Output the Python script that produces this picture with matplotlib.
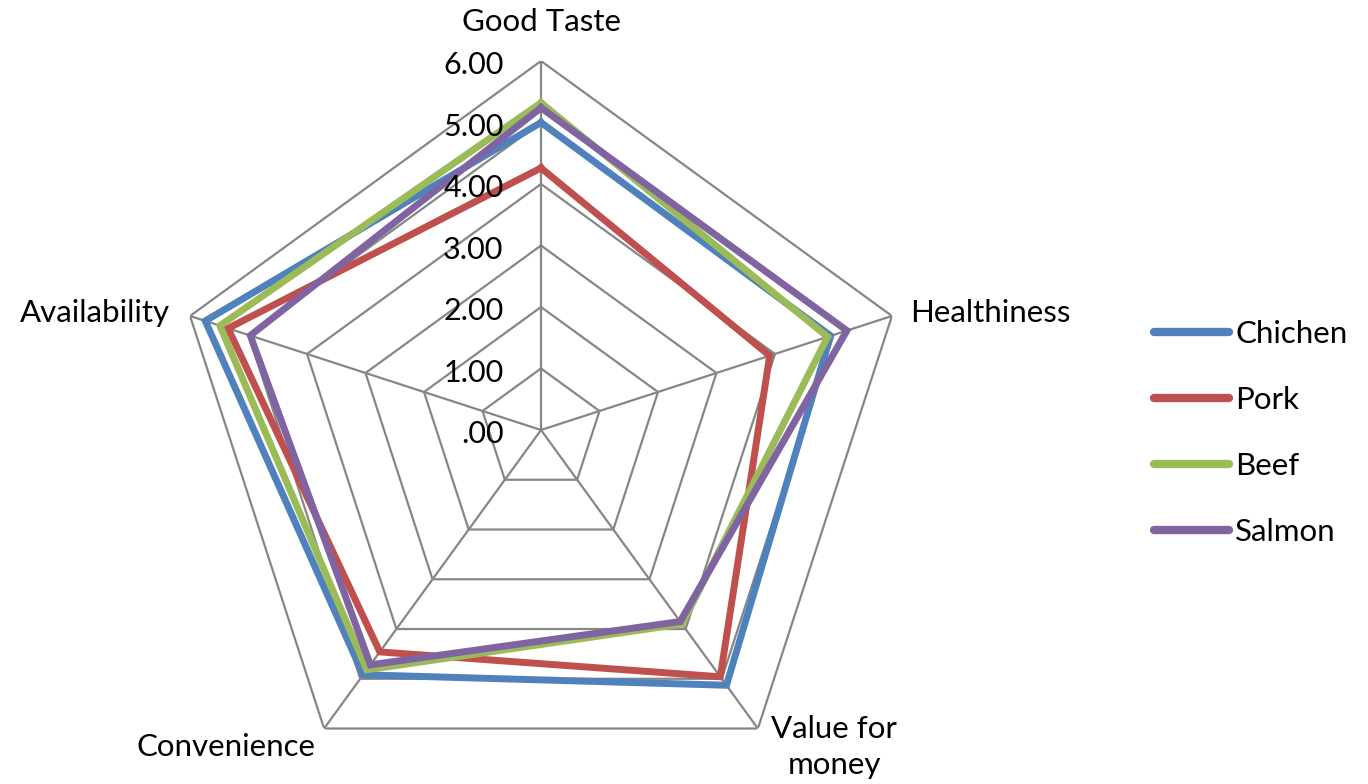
import matplotlib.pyplot as plt
import numpy as np

plt.rcParams['font.family'] = ['Lato', 'DejaVu Sans']

categories = ['Good Taste', 'Healthiness', 'Value for\nmoney', 'Convenience', 'Availability']
series = ['Chichen', 'Pork', 'Beef', 'Salmon']
chicken = [5.00, 4.95, 5.13, 4.92, 5.74]
pork = [4.26, 3.91, 4.96, 4.46, 5.35]
beef = [5.32, 4.90, 3.90, 4.82, 5.49]
salmon = [5.24, 5.23, 3.85, 4.72, 4.97]
levels = [0, 1, 2, 3, 4, 5, 6]
level_labels = ['.00', '1.00', '2.00', '3.00', '4.00', '5.00', '6.00']

colors = ['#4F81BD', '#C0504D', '#9BBB59', '#8064A2']
grid_color = '#868686'

fig = plt.figure(figsize=(13.68, 7.84), dpi=100)
cx, cy, rad = 541, 430, 369
ax = fig.add_axes([(cx - rad) / 1368, (784 - cy - rad) / 784, 2 * rad / 1368, 2 * rad / 784],
                  projection='polar')
ax.set_theta_offset(np.pi / 2)
ax.set_theta_direction(-1)
ax.set_ylim(0, 6)
ax.grid(False)
ax.spines['polar'].set_visible(False)
ax.set_xticks([])
ax.set_yticks([])
ax.patch.set_alpha(0)

n = len(categories)
theta = np.arange(n) * 2 * np.pi / n
theta_closed = np.append(theta, theta[0])

# polygon grid
for lv in levels[1:]:
    ax.plot(theta_closed, [lv] * (n + 1), color=grid_color, lw=1.6, zorder=1)
for t in theta:
    ax.plot([t, t], [0, 6], color=grid_color, lw=1.6, zorder=1)

# data
for name, vals, c in zip(series, [chicken, pork, beef, salmon], colors):
    v = np.append(vals, vals[0])
    ax.plot(theta_closed, v, color=c, lw=5, label=name, zorder=3,
            solid_joinstyle='miter')

# radial labels
for lv, lab in zip(levels, level_labels):
    ax.annotate(lab, (0, lv), xytext=(-27, -3), textcoords='offset points',
                ha='right', va='center', fontsize=22, zorder=4)

# category labels
fs = 22.5
ax.annotate(categories[0], (theta[0], 6), xytext=(0, 28), textcoords='offset points',
            ha='center', va='center', fontsize=fs)
ax.annotate(categories[1], (theta[1], 6), xytext=(13, 2), textcoords='offset points',
            ha='left', va='center', fontsize=fs)
ax.annotate(categories[2], (theta[2], 6), xytext=(55, -13), textcoords='offset points',
            ha='center', va='center', fontsize=fs, multialignment='center', linespacing=1.35)
ax.annotate(categories[3], (theta[3], 6), xytext=(-6.5, -13), textcoords='offset points',
            ha='right', va='center', fontsize=fs)
ax.annotate(categories[4], (theta[4], 6), xytext=(-14.4, 2), textcoords='offset points',
            ha='right', va='center', fontsize=fs)

leg = fig.legend(loc='center left', bbox_to_anchor=(1126 / 1368, 1 - 433 / 784),
                 frameon=False, fontsize=fs, handlelength=2.4, handletextpad=0.2,
                 labelspacing=1.22)
for h in leg.get_lines():
    h.set_linewidth(6)
    h.set_solid_capstyle('round')

fig.savefig('out.png', dpi=100, facecolor='white')
